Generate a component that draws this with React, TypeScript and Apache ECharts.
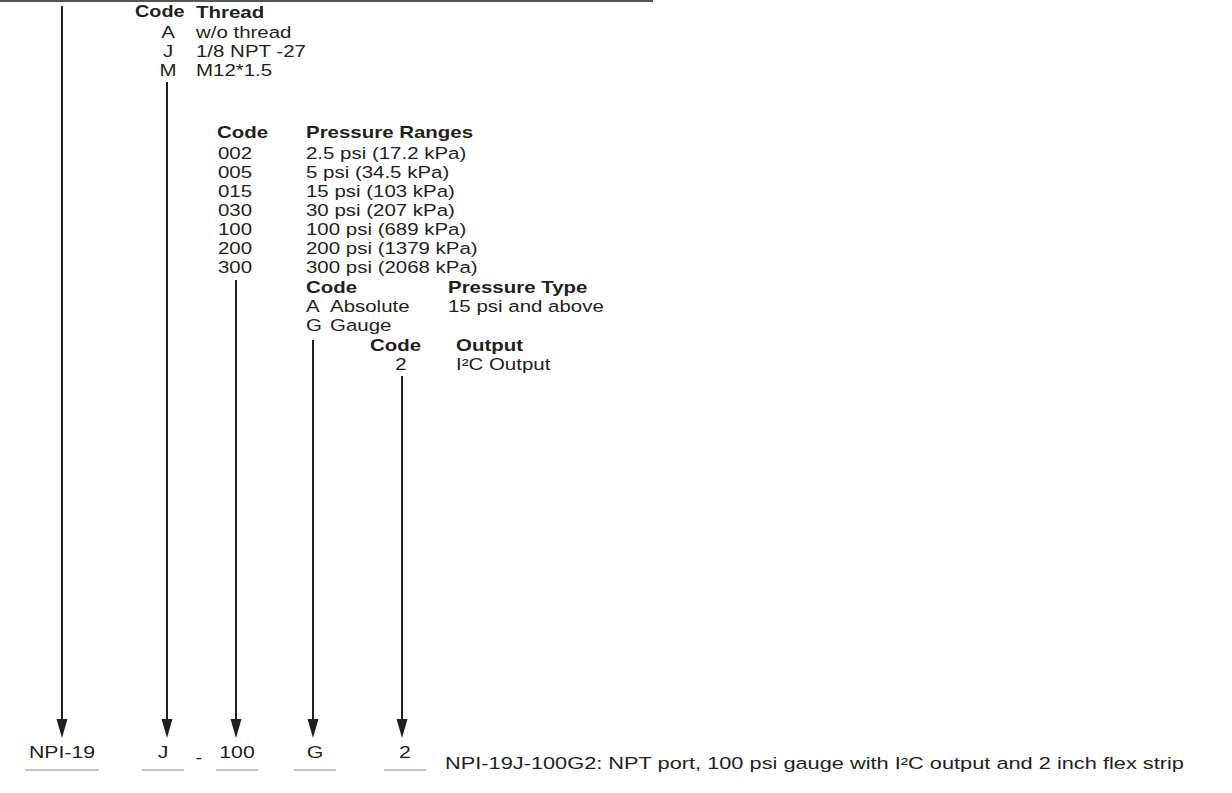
import React, { useEffect, useRef } from "react";
import * as echarts from "echarts";

const threadCodes = ["A", "J", "M"];
const threadLabels = ["w/o thread", "1/8 NPT -27", "M12*1.5"];
const rangeCodes = ["002", "005", "015", "030", "100", "200", "300"];
const rangeLabels = [
  "2.5 psi (17.2 kPa)",
  "5 psi (34.5 kPa)",
  "15 psi (103 kPa)",
  "30 psi (207 kPa)",
  "100 psi (689 kPa)",
  "200 psi (1379 kPa)",
  "300 psi (2068 kPa)",
];
const typeCodes = ["A", "G"];
const typeNames = ["Absolute", "Gauge"];
const typeNotes = ["15 psi and above", ""];
const outputCodes = ["2"];
const outputLabels = ["I²C Output"];
const partSegments = ["NPI-19", "J", "100", "G", "2"];
const exampleText = "NPI-19J-100G2: NPT port, 100 psi gauge with I²C output and 2 inch flex strip";

const FONT = "'Liberation Sans', Arial, Helvetica, sans-serif";
const INK = "#231f20";
const FS = 16.5;
const SX = 1.24;
const ROW = 19;

export default function App() {
  const ref = useRef<HTMLDivElement>(null);
  useEffect(() => {
    document.body.style.margin = "0";
    if (!ref.current) return;
    const chart = echarts.init(ref.current, undefined, { renderer: "svg" });
    const els: any[] = [];
    const txt = (x: number, y: number, s: string, bold = false, align = "left", sx = SX) =>
      els.push({
        type: "text",
        x,
        y,
        scaleX: sx,
        style: {
          text: s,
          fill: INK,
          font: `${bold ? "bold " : ""}${FS}px ${FONT}`,
          textAlign: align,
          textVerticalAlign: "middle",
        },
      });
    const arrowTip = 738;
    const arrow = (x: number, y0: number) => {
      els.push({
        type: "line",
        shape: { x1: x, y1: y0, x2: x, y2: arrowTip - 14 },
        style: { stroke: INK, lineWidth: 2 },
      });
      els.push({
        type: "polygon",
        shape: { points: [[x - 5.5, arrowTip - 19], [x + 5.5, arrowTip - 19], [x, arrowTip]] },
        style: { fill: INK },
      });
    };

    // top rule
    els.push({ type: "line", shape: { x1: 0, y1: 1, x2: 653, y2: 1 }, style: { stroke: "#555", lineWidth: 2 } });

    // Table 1: thread
    txt(135, 12, "Code", true, "left", 1.2);
    txt(196, 12, "Thread", true);
    threadCodes.forEach((c, i) => {
      txt(168, 32 + i * ROW, c, false, "center");
      txt(196, 32 + i * ROW, threadLabels[i]);
    });

    // Table 2: ranges
    txt(217, 132, "Code", true);
    txt(306, 132, "Pressure Ranges", true);
    rangeCodes.forEach((c, i) => {
      txt(218, 153 + i * ROW, c);
      txt(306, 153 + i * ROW, rangeLabels[i]);
    });

    // Table 3: type
    txt(306, 287, "Code", true);
    txt(448, 287, "Pressure Type", true);
    typeCodes.forEach((c, i) => {
      txt(306, 306 + i * ROW, c);
      txt(330, 306 + i * ROW, typeNames[i]);
      if (typeNotes[i]) txt(448, 306 + i * ROW, typeNotes[i]);
    });

    // Table 4: output
    txt(370, 345, "Code", true);
    txt(456, 345, "Output", true);
    outputCodes.forEach((c, i) => {
      txt(401, 364 + i * ROW, c, false, "center");
      txt(456, 364 + i * ROW, outputLabels[i]);
    });

    // arrows
    const arrowX = [62, 167, 236, 313, 402];
    const arrowStart = [6, 82, 280, 340, 376];
    arrowX.forEach((x, i) => arrow(x, arrowStart[i]));

    // part number segments
    const underlines = [[25, 99], [142, 184], [216, 258], [294, 336], [384, 426]];
    partSegments.forEach((s, i) => {
      const [a, b] = underlines[i];
      txt((a + b) / 2, 752, s, false, "center", 1.29);
      els.push({ type: "line", shape: { x1: a, y1: 770, x2: b, y2: 770 }, style: { stroke: "#8a8a8a", lineWidth: 1 } });
    });
    txt(199, 757, "-", false, "center");
    txt(445, 763, exampleText, false, "left", 1.32);

    chart.setOption({ animation: false, graphic: { elements: els } });
    return () => chart.dispose();
  }, []);
  return <div ref={ref} style={{ width: 1232, height: 793, background: "#fff" }} />;
}
